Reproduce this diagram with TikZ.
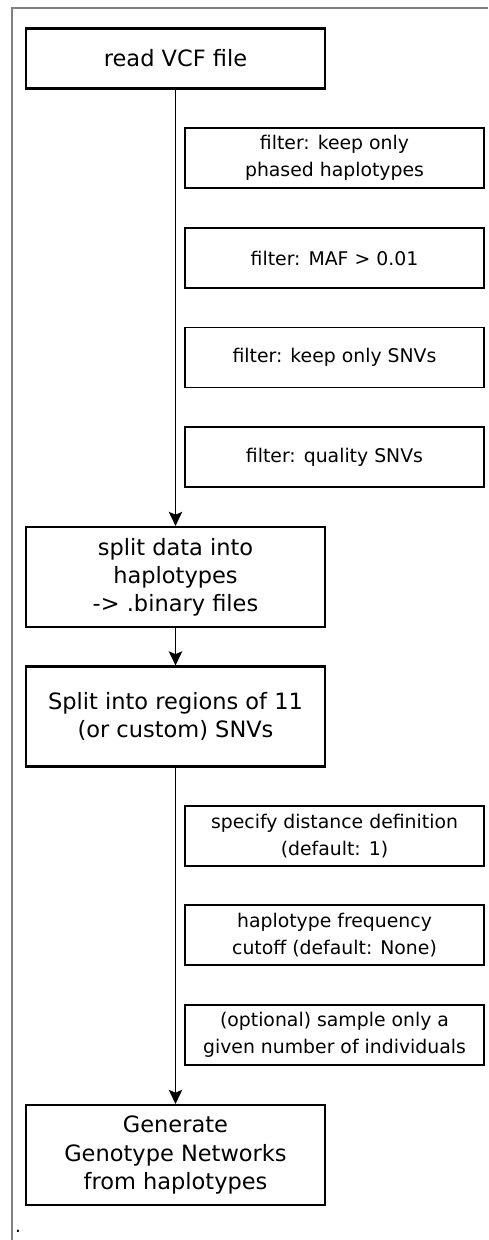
\documentclass[tikz,border=0pt]{standalone}
\usepackage{fontspec}
\setmainfont{DejaVu Sans}
\usetikzlibrary{arrows.meta,positioning}
\tikzstyle{block} = [rectangle, draw, line width=1.5pt, text centered, align=center,
    minimum width=7.475cm, font=\fontsize{16}{20}\selectfont]
\tikzstyle{filterbox} = [rectangle, draw, line width=1.3pt, text centered, align=center,
    minimum width=7.475cm, minimum height=1.5cm, font=\fontsize{13.4}{19}\selectfont]
\tikzstyle{arrow} = [line width=1.4pt,-{Stealth[length=10pt,width=9.5pt,inset=2pt]}]

\begin{document}
\begin{tikzpicture}[x=0.025cm, y=-0.025cm]
\useasboundingbox (0,0) rectangle (488,1240);
% page frame
\draw[gray, line width=1.1pt] (12,1240) -- (12,8) -- (488,8);
\node[inner sep=0pt, font=\fontsize{13}{15}\selectfont] (dot) at (18,1231) {.};
% main column
\node[block, minimum height=1.5cm] (read) at (175.5,58.5) {read VCF file};
\node[block, minimum height=2.5cm] (split) at (175.5,577) {split data into\\haplotypes\\-> .binary files};
\node[block, minimum height=2.5cm] (regions) at (175.5,716.5) {Split into regions of 11\\(or custom) SNVs};
\node[block, minimum height=2.5cm] (gen) at (175.5,1155) {Generate\\Genotype Networks\\from haplotypes};
% filters
\node[filterbox] (phased) at (334.5,158) {filter: keep only\\phased haplotypes};
\node[filterbox] (maf) at (334.5,258) {filter: MAF > 0.01};
\node[filterbox] (snvs) at (334.5,357.5) {filter: keep only SNVs};
\node[filterbox] (quality) at (334.5,457) {filter: quality SNVs};
% options
\node[filterbox] (dist) at (334.5,836) {specify distance definition\\(default: 1)};
\node[filterbox] (freq) at (334.5,935) {haplotype frequency\\cutoff (default: None)};
\node[filterbox] (sample) at (334.5,1035) {(optional) sample only a\\given number of individuals};
% connectors
\draw[arrow] (read) -- (split);
\draw[arrow] (split) -- (regions);
\draw[arrow] (regions) -- (gen);
\end{tikzpicture}
\end{document}
